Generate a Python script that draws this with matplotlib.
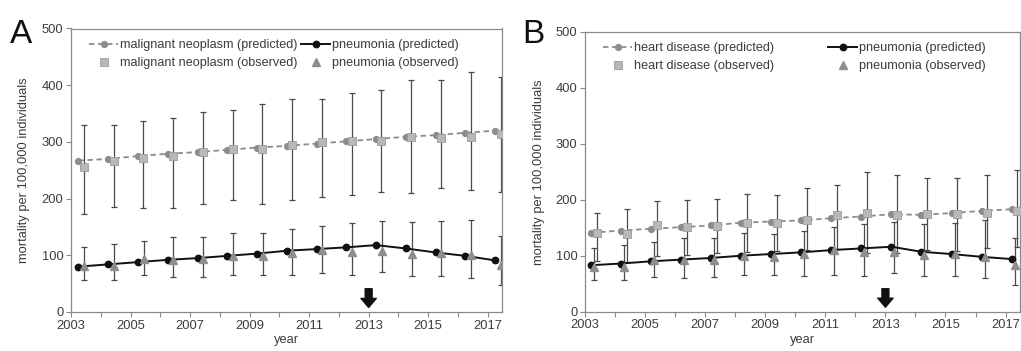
import numpy as np
import matplotlib
matplotlib.use('Agg')
import matplotlib.pyplot as plt
from matplotlib.ticker import FixedLocator

plt.rcParams['font.family'] = ['Liberation Sans', 'DejaVu Sans']

years = np.arange(2003, 2018)

# Panel A: malignant neoplasm vs pneumonia
mn_pred = [267, 270, 275, 279, 282, 286, 290, 293, 297, 301, 305, 309, 312, 316, 320]
mn_obs = [256, 266, 272, 276, 282, 288, 288, 294, 299, 302, 301, 309, 306, 309, 314]
mn_hi = [330, 329, 337, 343, 352, 356, 366, 376, 376, 386, 392, 409, 409, 423, 414]
mn_lo = [173, 185, 184, 184, 191, 198, 191, 198, 203, 207, 212, 209, 219, 216, 211]

pnA_pred = [80, 84, 88, 92, 95, 99, 103, 108, 111, 114, 118, 112, 105, 99, 91]
pnA_obs = [82, 82, 93, 92, 94, 99, 99, 104, 109, 106, 108, 103, 104, 100, 83]
pnA_hi = [114, 120, 125, 133, 133, 140, 140, 146, 152, 157, 160, 158, 160, 163, 134]
pnA_lo = [57, 57, 65, 62, 62, 66, 65, 66, 68, 66, 71, 63, 63, 60, 47]

# Panel B: heart disease vs pneumonia
hd_pred = [141, 145, 148, 151, 154, 159, 161, 163, 167, 170, 174, 173, 176, 180, 183]
hd_obs = [140, 139, 154, 152, 153, 158, 159, 163, 172, 176, 173, 174, 175, 177, 180]
hd_hi = [177, 183, 198, 200, 201, 210, 209, 221, 226, 249, 244, 239, 239, 244, 253]
hd_lo = [90, 88, 100, 102, 104, 106, 108, 110, 112, 105, 104, 111, 109, 113, 115]

pnB_pred = [83, 86, 90, 93, 96, 100, 103, 106, 110, 113, 116, 107, 103, 98, 94]
pnB_obs = [80, 79, 93, 92, 93, 99, 97, 103, 110, 106, 106, 102, 103, 98, 83]
pnB_hi = [113, 119, 125, 132, 132, 141, 138, 145, 151, 157, 160, 157, 159, 163, 132]
pnB_lo = [56, 56, 62, 60, 62, 66, 65, 64, 65, 64, 70, 63, 63, 60, 47]

TXT = '#3c3c3c'
SPINE = '#8a8a8a'
EBAR = '#4a4a4a'
FS = 9.3
FS_LEG = 9.1


def draw_panel(ax, name, pred, obs, lo, hi, p_pred, p_obs, p_lo, p_hi,
               off_pred, off_obs, off_pobs, colspace):
    xp = years + off_pred
    xo = years + off_obs
    xpo = years + off_pobs
    obs = np.array(obs); lo = np.array(lo); hi = np.array(hi)
    p_obs = np.array(p_obs); p_lo = np.array(p_lo); p_hi = np.array(p_hi)

    ax.errorbar(xo, obs, yerr=[obs - lo, hi - obs], fmt='none', ecolor=EBAR,
                elinewidth=0.9, capsize=2.3, capthick=0.9, zorder=2)
    ax.errorbar(xpo, p_obs, yerr=[p_obs - p_lo, p_hi - p_obs], fmt='none', ecolor=EBAR,
                elinewidth=0.9, capsize=2.3, capthick=0.9, zorder=2)

    h1, = ax.plot(xp, pred, color='#8c8c8c', lw=1.3, dashes=(3, 2), marker='o',
                  ms=4.2, mfc='#8c8c8c', mec='#8c8c8c', label=f'{name} (predicted)', zorder=3)
    h2, = ax.plot(xo, obs, ls='none', marker='s', ms=5.5, mfc='#b8b8b8', mec='#9a9a9a',
                  mew=0.6, label=f'{name} (observed)', zorder=4)
    h3, = ax.plot(xp, p_pred, color='#111111', lw=1.4, marker='o', ms=4.6,
                  mfc='#111111', mec='#111111', label='pneumonia (predicted)', zorder=3)
    h4, = ax.plot(xpo, p_obs, ls='none', marker='^', ms=5.5, mfc='#8e8e8e', mec='#8e8e8e',
                  label='pneumonia (observed)', zorder=4)

    ax.annotate('', xy=(2013, 8), xytext=(2013, 41),
                arrowprops=dict(facecolor='#111111', edgecolor='#111111',
                                width=5, headwidth=11, headlength=6.5, shrink=0))

    ax.set_xlim(2003, 2017.48)
    ax.set_ylim(0, 500)
    ax.xaxis.set_major_locator(FixedLocator(range(2003, 2018, 2)))
    ax.xaxis.set_minor_locator(FixedLocator(range(2004, 2018, 2)))
    ax.set_yticks(range(0, 501, 100))
    ax.tick_params(which='both', direction='out', length=3.5, width=0.8,
                   color=SPINE, labelcolor=TXT, labelsize=FS, pad=2)
    for s in ax.spines.values():
        s.set_color(SPINE)
        s.set_linewidth(0.9)
    ax.set_xlabel('year', fontsize=FS, color=TXT, labelpad=2)
    ax.set_ylabel('mortality per 100,000 individuals', fontsize=FS, color=TXT, labelpad=8)

    ax.legend(handles=[h1, h2, h3, h4], ncol=2, loc='upper left',
              bbox_to_anchor=(0.042, 0.962), frameon=False, fontsize=FS_LEG,
              handlelength=2.3, handletextpad=0.12, columnspacing=colspace,
              labelspacing=0.45, borderpad=0, borderaxespad=0, labelcolor=TXT)


fig = plt.figure(figsize=(10.21, 3.51), dpi=100)
axA = fig.add_axes([71 / 1021, 39 / 351, 431 / 1021, 283.5 / 351])
axB = fig.add_axes([585 / 1021, 39.3 / 351, 435 / 1021, 280 / 351])

draw_panel(axA, 'malignant neoplasm', mn_pred, mn_obs, mn_lo, mn_hi,
           pnA_pred, pnA_obs, pnA_lo, pnA_hi, 0.25, 0.43, 0.44, 0.3)
draw_panel(axB, 'heart disease', hd_pred, hd_obs, hd_lo, hd_hi,
           pnB_pred, pnB_obs, pnB_lo, pnB_hi, 0.2, 0.39, 0.3, 4.3)

fig.text(10 / 1021, 1 - 43 / 351, 'A', fontsize=24, color='#111111', va='baseline')
fig.text(522 / 1021, 1 - 43 / 351, 'B', fontsize=24, color='#111111', va='baseline')

fig.savefig('out.png', dpi=100)
